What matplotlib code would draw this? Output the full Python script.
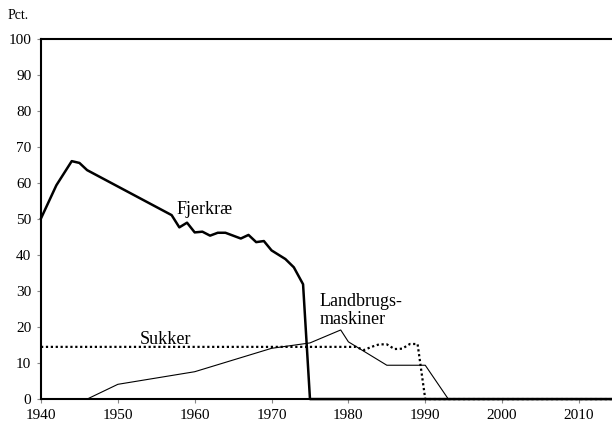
import matplotlib
matplotlib.use("Agg")
import matplotlib.pyplot as plt

plt.rcParams["font.family"] = ["Liberation Serif", "DejaVu Serif"]

# Fjerkræ (tyk linje)
fjer_aar = [1940, 1942, 1944, 1945, 1946, 1957, 1958, 1959, 1960, 1961, 1962,
            1963, 1964, 1965, 1966, 1967, 1968, 1969, 1970, 1971.8, 1972.9,
            1974.1, 1975, 2014.3]
fjer_pct = [50.2, 59.4, 66.1, 65.6, 63.6, 51.1, 47.7, 49.0, 46.3, 46.5, 45.4,
            46.2, 46.2, 45.4, 44.6, 45.6, 43.6, 43.9, 41.3, 38.9, 36.6,
            31.9, 0.0, 0.0]

# Sukker (prikket linje)
sukker_aar = [1940, 1981, 1982, 1983, 1984, 1985, 1986, 1987, 1988, 1989, 1990, 2014.3]
sukker_pct = [14.5, 14.5, 13.6, 14.5, 15.2, 15.2, 13.9, 14.0, 15.3, 15.3, 0.0, 0.0]

# Landbrugsmaskiner (tynd linje)
maskin_aar = [1940, 1946, 1950, 1960, 1970, 1975, 1979, 1980, 1985, 1990, 1993, 2006]
maskin_pct = [0.0, 0.0, 4.1, 7.6, 14.1, 15.6, 19.2, 15.9, 9.4, 9.4, 0.0, 0.0]

x_ticks = [1940, 1950, 1960, 1970, 1980, 1990, 2000, 2010]
y_ticks = list(range(0, 101, 10))

fig = plt.figure(figsize=(6.12, 4.25), dpi=100)
ax = fig.add_axes([0.067, 0.061, 0.933, 0.847])

ax.plot(maskin_aar, maskin_pct, color="black", lw=0.8, clip_on=False)
ax.plot(sukker_aar, sukker_pct, color="black", lw=1.6, linestyle=(0, (1, 1.2)), clip_on=False)
ax.plot(fjer_aar, fjer_pct, color="black", lw=1.8, clip_on=False)

ax.set_xlim(1940, 2014.3)
ax.set_ylim(0, 100)
ax.set_xticks(x_ticks)
ax.set_yticks(y_ticks)
ax.tick_params(axis="both", labelsize=11, length=3, width=0.8, color="#888888",
               direction="out", pad=4)

for side in ["left", "bottom", "top"]:
    ax.spines[side].set_linewidth(1.5)
ax.spines["right"].set_visible(False)

ax.text(1957.6, 52.8, "Fjerkræ", fontsize=13, va="center", ha="left")
ax.text(1952.8, 16.6, "Sukker", fontsize=13, va="center", ha="left")
ax.text(1976.3, 24.6, "Landbrugs-\nmaskiner", fontsize=13, va="center", ha="left",
        linespacing=1.05)

fig.text(0.012, 0.963, "Pct.", fontsize=10, va="center", ha="left")

fig.savefig("out.png", dpi=100)
